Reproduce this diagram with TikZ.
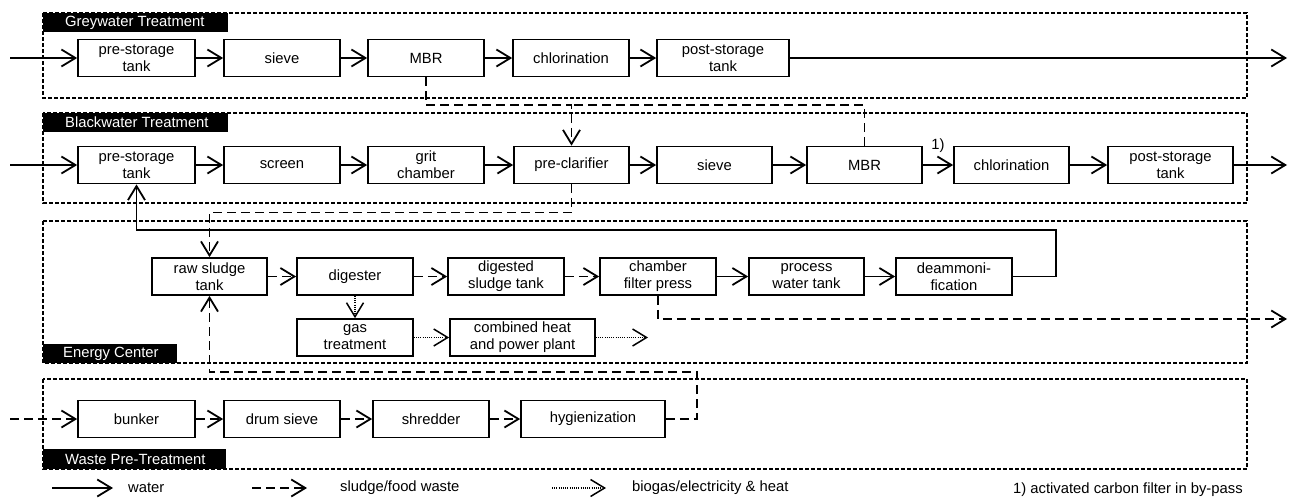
\documentclass[tikz,border=0pt]{standalone}
\usepackage{fontspec}
\setmainfont{Liberation Sans}
\usetikzlibrary{arrows.meta}

\begin{document}
\begin{tikzpicture}[x=1pt,y=-1pt,
    box/.style={draw,line width=1.7pt,minimum width=116pt,minimum height=37pt,inner sep=0pt,align=center,font=\fontsize{14.8}{17}\selectfont},
    frame/.style={line width=1.4pt,dash pattern=on 4pt off 2pt},
    tag/.style={anchor=west,text=white,inner sep=0pt,font=\fontsize{14.8}{17}\selectfont},
    legend/.style={anchor=west,inner sep=0pt,font=\fontsize{14.8}{17}\selectfont},
    water/.style={line width=1.8pt,-{Straight Barb[length=14pt,width=17pt]}},
    sludge/.style={water,dash pattern=on 9pt off 5pt},
    gas/.style={water,line width=1.5pt,dash pattern=on 1pt off 1.2pt}]
      \useasboundingbox (0,0) rectangle (1291,499);

      \draw[frame] (43,13) rectangle (1247,98);
      \draw[frame] (43,113) rectangle (1247,203);
      \draw[frame] (43,221) rectangle (1247,363);
      \draw[frame] (43,379) rectangle (1247,469);

      \fill (43,13) rectangle (228,32);
      \fill (43,113) rectangle (228,132);
      \fill (43,344) rectangle (177,363);
      \fill (43,449) rectangle (226,469);
      \node[tag] (greytag) at (65,22.5) {Greywater Treatment};
      \node[tag] (blacktag) at (65,122.5) {Blackwater Treatment};
      \node[tag] (energytag) at (63,353.5) {Energy Center};
      \node[tag] (wastetag) at (65,459) {Waste Pre-Treatment};

      \node[box,minimum width=117pt] (gpre) at (136.5,58) {pre-storage\\tank};
      \node[box] (gsieve) at (282,58) {sieve};
      \node[box] (gmbr) at (426,58) {MBR};
      \node[box] (gchl) at (571,58) {chlorination};
      \node[box,minimum width=132pt] (gpost) at (723,58) {post-storage\\tank};

      \node[box,minimum width=117pt] (bpre) at (136.5,165) {pre-storage\\tank};
      \node[box] (bscreen) at (282,165) {screen};
      \node[box] (bgrit) at (426,165) {grit\\chamber};
      \node[box,minimum width=115pt] (bclar) at (571.5,165) {pre-clarifier};
      \node[box,minimum width=115pt] (bsieve) at (714.5,165) {sieve};
      \node[box,minimum width=115pt] (bmbr) at (864.5,165) {MBR};
      \node[box,minimum width=115pt] (bchl) at (1011.5,165) {chlorination};
      \node[box,minimum width=125pt] (bpost) at (1170.5,165) {post-storage\\tank};

      \node[box,minimum width=115pt] (raw) at (209.5,276.5) {raw sludge\\tank};
      \node[box] (dig) at (355,276.5) {digester};
      \node[box] (digs) at (506,276.5) {digested\\sludge tank};
      \node[box] (press) at (658,276.5) {chamber\\filter press};
      \node[box,minimum width=115pt] (pwt) at (806.5,276.5) {process\\water tank};
      \node[box] (deam) at (954,276.5) {deammoni-\\fication};
      \node[box] (gast) at (355,337.5) {gas\\treatment};
      \node[box,minimum width=145pt] (chp) at (522.5,337.5) {combined heat\\and power plant};

      \node[box,minimum width=117pt] (bunker) at (136.5,419) {bunker};
      \node[box] (drum) at (282,419) {drum sieve};
      \node[box] (shred) at (431,419) {shredder};
      \node[box,minimum width=144pt] (hyg) at (593,419) {hygienization};

      \coordinate (gin) at (10,58);
      \coordinate (gout) at (1287,58);
      \coordinate (bin) at (10,165);
      \coordinate (bout) at (1287,165);
      \coordinate (win) at (10,419);
      \coordinate (sj) at (571.5,105);
      \coordinate (rj) at (209.5,212.5);
      \coordinate (rt) at (1056,230);
      \coordinate (pout) at (1287,319);
      \coordinate (chpout) at (648,337.5);
      \coordinate (hj) at (697,372);

      \draw[water] (gin) -- (gpre);
      \draw[water] (gpre) -- (gsieve);
      \draw[water] (gsieve) -- (gmbr);
      \draw[water] (gmbr) -- (gchl);
      \draw[water] (gchl) -- (gpost);
      \draw[water] (gpost) -- (gout);

      \draw[water] (bin) -- (bpre);
      \draw[water] (bpre) -- (bscreen);
      \draw[water] (bscreen) -- (bgrit);
      \draw[water] (bgrit) -- (bclar);
      \draw[water] (bclar) -- (bsieve);
      \draw[water] (bsieve) -- (bmbr);
      \draw[water] (bmbr) -- node[above,yshift=8pt,font=\fontsize{14.8}{17}\selectfont] (note) {1)} (bchl);
      \draw[water] (bchl) -- (bpost);
      \draw[water] (bpost) -- (bout);

      \draw[sludge] (gmbr) |- (sj) -- (bclar);
      \draw[sludge,-] (bmbr) |- (sj);
      \draw[sludge] (bclar) |- (rj) -- (raw);

      \draw[sludge] (raw) -- (dig);
      \draw[sludge] (dig) -- (digs);
      \draw[sludge] (digs) -- (press);
      \draw[water] (press) -- (pwt);
      \draw[water] (pwt) -- (deam);
      \draw[water] (deam) -| (rt) -| (bpre);
      \draw[sludge] (press) |- (pout);

      \draw[gas] (dig) -- (gast);
      \draw[gas] (gast) -- (chp);
      \draw[gas] (chp) -- (chpout);

      \draw[sludge] (win) -- (bunker);
      \draw[sludge] (bunker) -- (drum);
      \draw[sludge] (drum) -- (shred);
      \draw[sludge] (shred) -- (hyg);
      \draw[sludge] (hyg) -| (hj) -| (raw);

      \coordinate (lw) at (52,488);
      \coordinate (lwe) at (113,488);
      \coordinate (ls) at (252,488);
      \coordinate (lse) at (307,488);
      \coordinate (lg) at (552,488);
      \coordinate (lge) at (606,488);
      \draw[water] (lw) -- (lwe);
      \draw[sludge] (ls) -- (lse);
      \draw[gas] (lg) -- (lge);
      \node[legend] (lwater) at (128,488) {water};
      \node[legend] (lsludge) at (340,488) {sludge/food waste};
      \node[legend] (lgas) at (632,488) {biogas/electricity \& heat};
      \node[legend] (lnote) at (1013,490) {1) activated carbon filter in by-pass};
    \end{tikzpicture}
\end{document}
